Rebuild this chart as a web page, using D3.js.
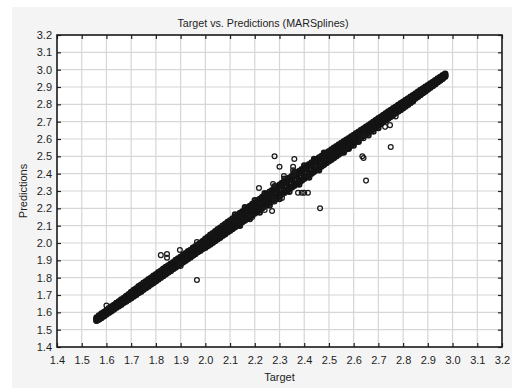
<!DOCTYPE html>
<html>
<head>
<meta charset="utf-8">
<script src="https://cdn.jsdelivr.net/npm/d3@7"></script>
<style>
  html, body { margin: 0; padding: 0; background: #ffffff; }
  svg { display: block; font-family: "Liberation Sans", Arial, sans-serif; }
</style>
</head>
<body>
<svg id="chart" width="512" height="388"></svg>
<script>
// Axis tick values (same range on both axes)
const tickValues = [1.4, 1.5, 1.6, 1.7, 1.8, 1.9, 2.0, 2.1, 2.2, 2.3, 2.4, 2.5, 2.6, 2.7, 2.8, 2.9, 3.0, 3.1, 3.2];

// Observed target values for the bulk of the cases
const target = [
  1.56, 1.57, 1.58, 1.59, 1.60, 1.61, 1.62, 1.63, 1.64, 1.65, 1.66, 1.67, 1.68, 1.69,
  1.70, 1.71, 1.72, 1.73, 1.74, 1.75, 1.76, 1.77, 1.78, 1.79, 1.80, 1.81, 1.82, 1.83,
  1.84, 1.85, 1.86, 1.87, 1.88, 1.89, 1.90, 1.91, 1.92, 1.93, 1.94, 1.95, 1.96, 1.97,
  1.98, 1.99, 2.00, 2.01, 2.02, 2.03, 2.04, 2.05, 2.06, 2.07, 2.08, 2.09, 2.10, 2.11,
  2.12, 2.13, 2.14, 2.15, 2.16, 2.17, 2.18, 2.19, 2.20, 2.21, 2.22, 2.23, 2.24, 2.25,
  2.26, 2.27, 2.28, 2.29, 2.30, 2.31, 2.32, 2.33, 2.34, 2.35, 2.36, 2.37, 2.38, 2.39,
  2.40, 2.41, 2.42, 2.43, 2.44, 2.45, 2.46, 2.47, 2.48, 2.49, 2.50, 2.51, 2.52, 2.53,
  2.54, 2.55, 2.56, 2.57, 2.58, 2.59, 2.60, 2.61, 2.62, 2.63, 2.64, 2.65, 2.66, 2.67,
  2.68, 2.69, 2.70, 2.71, 2.72, 2.73, 2.74, 2.75, 2.76, 2.77, 2.78, 2.79, 2.80, 2.81,
  2.82, 2.83, 2.84, 2.85, 2.86, 2.87, 2.88, 2.89, 2.90, 2.91, 2.92, 2.93, 2.94, 2.95,
  2.96, 2.97
];

// MARSplines predictions for those cases (five groups per target value)
const predTop = [
  1.570, 1.582, 1.593, 1.601, 1.613, 1.623, 1.634, 1.642, 1.654, 1.663, 1.674, 1.683, 1.694, 1.705,
  1.718, 1.729, 1.738, 1.751, 1.759, 1.771, 1.779, 1.791, 1.800, 1.811, 1.819, 1.831, 1.840, 1.851,
  1.861, 1.870, 1.881, 1.889, 1.902, 1.910, 1.921, 1.931, 1.941, 1.952, 1.960, 1.972, 1.981, 1.992,
  2.001, 2.012, 2.024, 2.035, 2.047, 2.056, 2.068, 2.079, 2.088, 2.100, 2.110, 2.121, 2.130, 2.141,
  2.152, 2.161, 2.173, 2.182, 2.193, 2.204, 2.213, 2.225, 2.234, 2.245, 2.254, 2.265, 2.276, 2.284,
  2.296, 2.305, 2.316, 2.325, 2.336, 2.346, 2.355, 2.367, 2.376, 2.386, 2.397, 2.405, 2.416, 2.425,
  2.436, 2.445, 2.455, 2.464, 2.474, 2.483, 2.493, 2.502, 2.512, 2.521, 2.530, 2.540, 2.549, 2.558,
  2.568, 2.577, 2.587, 2.596, 2.605, 2.615, 2.623, 2.633, 2.642, 2.652, 2.661, 2.671, 2.680, 2.690,
  2.700, 2.709, 2.719, 2.729, 2.738, 2.748, 2.758, 2.767, 2.777, 2.786, 2.796, 2.806, 2.815, 2.825,
  2.834, 2.844, 2.853, 2.863, 2.872, 2.882, 2.891, 2.901, 2.910, 2.920, 2.929, 2.939, 2.949, 2.958,
  2.968, 2.976
];
const predHigh = [
  1.565, 1.579, 1.588, 1.600, 1.608, 1.620, 1.629, 1.640, 1.649, 1.661, 1.668, 1.680, 1.690, 1.701,
  1.713, 1.722, 1.734, 1.741, 1.754, 1.762, 1.774, 1.783, 1.793, 1.803, 1.814, 1.824, 1.833, 1.845,
  1.853, 1.864, 1.874, 1.885, 1.894, 1.905, 1.917, 1.925, 1.937, 1.946, 1.957, 1.966, 1.977, 1.986,
  1.997, 2.006, 2.018, 2.026, 2.037, 2.047, 2.058, 2.067, 2.079, 2.088, 2.099, 2.108, 2.121, 2.131,
  2.142, 2.152, 2.163, 2.172, 2.184, 2.193, 2.203, 2.214, 2.225, 2.233, 2.245, 2.254, 2.264, 2.275,
  2.284, 2.296, 2.305, 2.316, 2.327, 2.335, 2.347, 2.356, 2.366, 2.377, 2.386, 2.396, 2.406, 2.416,
  2.425, 2.434, 2.445, 2.453, 2.464, 2.472, 2.482, 2.491, 2.501, 2.509, 2.519, 2.528, 2.538, 2.547,
  2.557, 2.566, 2.576, 2.585, 2.595, 2.604, 2.615, 2.623, 2.634, 2.642, 2.653, 2.662, 2.673, 2.681,
  2.692, 2.702, 2.713, 2.721, 2.732, 2.741, 2.752, 2.760, 2.771, 2.780, 2.790, 2.799, 2.810, 2.819,
  2.829, 2.838, 2.849, 2.857, 2.868, 2.877, 2.887, 2.896, 2.906, 2.916, 2.925, 2.935, 2.945, 2.955,
  2.964, 2.974
];
const predMid = [
  1.558, 1.573, 1.579, 1.594, 1.598, 1.612, 1.617, 1.633, 1.638, 1.654, 1.657, 1.673, 1.678, 1.692,
  1.703, 1.707, 1.724, 1.728, 1.743, 1.747, 1.764, 1.768, 1.783, 1.787, 1.804, 1.808, 1.823, 1.827,
  1.845, 1.848, 1.862, 1.867, 1.884, 1.887, 1.903, 1.906, 1.924, 1.927, 1.943, 1.946, 1.964, 1.967,
  1.984, 1.987, 2.004, 2.006, 2.024, 2.027, 2.044, 2.046, 2.065, 2.067, 2.084, 2.087, 2.105, 2.106,
  2.125, 2.127, 2.145, 2.147, 2.166, 2.168, 2.185, 2.187, 2.206, 2.208, 2.226, 2.227, 2.246, 2.248,
  2.265, 2.267, 2.286, 2.288, 2.305, 2.307, 2.324, 2.326, 2.344, 2.346, 2.363, 2.366, 2.383, 2.386,
  2.403, 2.405, 2.423, 2.425, 2.443, 2.445, 2.462, 2.465, 2.482, 2.484, 2.502, 2.504, 2.521, 2.524,
  2.541, 2.543, 2.561, 2.563, 2.580, 2.583, 2.600, 2.602, 2.619, 2.622, 2.639, 2.641, 2.659, 2.661,
  2.678, 2.681, 2.698, 2.700, 2.718, 2.720, 2.737, 2.740, 2.757, 2.759, 2.777, 2.779, 2.797, 2.798,
  2.816, 2.818, 2.836, 2.838, 2.856, 2.857, 2.876, 2.877, 2.896, 2.907, 2.916, 2.927, 2.937, 2.947,
  2.957, 2.968
];
const predLow = [
  1.553, 1.562, 1.573, 1.581, 1.592, 1.601, 1.611, 1.620, 1.631, 1.639, 1.650, 1.659, 1.669, 1.678,
  1.688, 1.697, 1.707, 1.716, 1.727, 1.735, 1.746, 1.755, 1.765, 1.775, 1.784, 1.794, 1.805, 1.813,
  1.824, 1.833, 1.843, 1.853, 1.863, 1.872, 1.884, 1.892, 1.902, 1.912, 1.922, 1.931, 1.942, 1.951,
  1.961, 1.970, 1.981, 1.990, 2.000, 2.009, 2.020, 2.029, 2.039, 2.048, 2.059, 2.067, 2.078, 2.087,
  2.097, 2.106, 2.117, 2.126, 2.136, 2.145, 2.155, 2.165, 2.176, 2.184, 2.195, 2.204, 2.214, 2.224,
  2.234, 2.243, 2.254, 2.263, 2.274, 2.283, 2.293, 2.303, 2.313, 2.322, 2.333, 2.342, 2.352, 2.362,
  2.373, 2.383, 2.393, 2.403, 2.414, 2.423, 2.434, 2.444, 2.455, 2.464, 2.475, 2.485, 2.495, 2.505,
  2.516, 2.525, 2.536, 2.546, 2.556, 2.566, 2.577, 2.587, 2.597, 2.607, 2.618, 2.628, 2.638, 2.648,
  2.659, 2.669, 2.679, 2.690, 2.700, 2.710, 2.720, 2.731, 2.741, 2.751, 2.761, 2.772, 2.782, 2.792,
  2.803, 2.813, 2.823, 2.833, 2.844, 2.854, 2.865, 2.874, 2.885, 2.895, 2.906, 2.916, 2.927, 2.937,
  2.948, 2.960
];
const predBottom = [
  1.551, 1.559, 1.568, 1.577, 1.587, 1.597, 1.606, 1.616, 1.626, 1.635, 1.644, 1.655, 1.663, 1.673,
  1.681, 1.691, 1.700, 1.711, 1.719, 1.730, 1.740, 1.749, 1.760, 1.769, 1.780, 1.789, 1.800, 1.809,
  1.819, 1.830, 1.839, 1.850, 1.859, 1.869, 1.878, 1.889, 1.898, 1.908, 1.917, 1.928, 1.937, 1.948,
  1.956, 1.967, 1.973, 1.983, 1.991, 2.002, 2.011, 2.022, 2.031, 2.042, 2.051, 2.062, 2.070, 2.081,
  2.091, 2.101, 2.110, 2.121, 2.130, 2.141, 2.150, 2.161, 2.170, 2.181, 2.190, 2.201, 2.210, 2.221,
  2.230, 2.241, 2.250, 2.261, 2.270, 2.281, 2.290, 2.302, 2.310, 2.321, 2.330, 2.341, 2.350, 2.361,
  2.370, 2.381, 2.390, 2.401, 2.411, 2.421, 2.431, 2.441, 2.451, 2.461, 2.471, 2.481, 2.491, 2.501,
  2.511, 2.521, 2.531, 2.541, 2.551, 2.562, 2.576, 2.586, 2.597, 2.607, 2.617, 2.627, 2.638, 2.647,
  2.658, 2.668, 2.678, 2.688, 2.698, 2.708, 2.718, 2.728, 2.738, 2.748, 2.758, 2.768, 2.778, 2.788,
  2.798, 2.808, 2.818, 2.836, 2.847, 2.857, 2.867, 2.877, 2.888, 2.898, 2.908, 2.918, 2.929, 2.939,
  2.950, 2.961
];

// Cases along the edges of the band, where the spread is widest
const edgeTarget = [
  2.12, 2.16, 2.20, 2.24, 2.28, 2.32, 2.36, 2.40, 2.44, 2.48,
  2.14, 2.18, 2.22, 2.26, 2.30, 2.34, 2.38, 2.42, 2.46,
  2.56, 2.58, 2.60, 2.62, 2.66, 2.68, 2.70
];
const edgePred = [
  2.165, 2.206, 2.247, 2.287, 2.328, 2.371, 2.409, 2.447, 2.484, 2.520,
  2.100, 2.138, 2.176, 2.216, 2.254, 2.296, 2.337, 2.378, 2.420,
  2.522, 2.544, 2.563, 2.584, 2.622, 2.643, 2.664
];

// Cases the model fits less well
const outlierTarget = [
  1.600, 1.820, 1.845, 1.845, 1.897, 1.900, 1.966, 1.966,
  2.190, 2.217, 2.240, 2.270, 2.274, 2.280, 2.280, 2.300, 2.310, 2.318,
  2.355, 2.355, 2.355, 2.360, 2.375, 2.390, 2.400, 2.415, 2.464,
  2.635, 2.640, 2.640, 2.650, 2.727, 2.747, 2.750, 2.770
];
const outlierPred = [
  1.640, 1.930, 1.937, 1.915, 1.960, 1.867, 1.787, 2.006,
  2.150, 2.317, 2.190, 2.185, 2.340, 2.500, 2.240, 2.440, 2.260, 2.387,
  2.440, 2.420, 2.400, 2.485, 2.290, 2.290, 2.290, 2.290, 2.200,
  2.500, 2.490, 2.605, 2.360, 2.670, 2.680, 2.554, 2.730
];

const svg = d3.select("#chart");
const W = 512, H = 388;
const plot = { left: 57, right: 502, top: 35, bottom: 347 };

// Outer panel
svg.append("rect")
  .attr("x", 12).attr("y", 7)
  .attr("width", W - 12).attr("height", H - 7)
  .attr("fill", "#f4f4f4");

// Plot area
svg.append("rect")
  .attr("x", plot.left).attr("y", plot.top)
  .attr("width", plot.right - plot.left).attr("height", plot.bottom - plot.top)
  .attr("fill", "#ffffff");

const x = d3.scaleLinear().domain([1.4, 3.2]).range([plot.left, plot.right]);
const y = d3.scaleLinear().domain([1.4, 3.2]).range([plot.bottom, plot.top]);

// Gridlines
const grid = svg.append("g").attr("stroke", "#d6d6d6").attr("stroke-width", 1.2);
grid.selectAll("line.vx").data(tickValues.slice(1, -1)).join("line")
  .attr("x1", d => x(d)).attr("x2", d => x(d))
  .attr("y1", plot.top).attr("y2", plot.bottom);
grid.selectAll("line.hy").data(tickValues.slice(1, -1)).join("line")
  .attr("y1", d => y(d)).attr("y2", d => y(d))
  .attr("x1", plot.left).attr("x2", plot.right);

// Points: dense band first, then the scattered cases
const band = [];
target.forEach((t, i) => {
  band.push([t, predTop[i]]);
  band.push([t, predHigh[i]]);
  band.push([t, predMid[i]]);
  band.push([t, predLow[i]]);
  band.push([t, predBottom[i]]);
});
edgeTarget.forEach((t, i) => band.push([t, edgePred[i]]));
const scattered = outlierTarget.map((t, i) => [t, outlierPred[i]]);

svg.append("g")
  .selectAll("circle").data(band).join("circle")
  .attr("cx", d => x(d[0]))
  .attr("cy", d => y(d[1]))
  .attr("r", 2.3)
  .attr("fill", "none")
  .attr("stroke", "#141414")
  .attr("stroke-width", 1.9);

svg.append("g")
  .selectAll("circle").data(scattered).join("circle")
  .attr("cx", d => x(d[0]))
  .attr("cy", d => y(d[1]))
  .attr("r", 2.4)
  .attr("fill", "none")
  .attr("stroke", "#1a1a1a")
  .attr("stroke-width", 1.25);

// Axes with inward ticks
const fmt = d3.format(".1f");
function styleAxis(g) {
  g.select(".domain").remove();
  g.selectAll(".tick line").attr("stroke", "#222").attr("stroke-width", 1.2);
  g.selectAll(".tick text").attr("fill", "#1e1e1e").style("font-size", "11px")
    .style("font-family", "'Liberation Sans', Arial, sans-serif");
}

svg.append("g")
  .attr("transform", `translate(0,${plot.bottom})`)
  .call(d3.axisBottom(x).tickValues(tickValues).tickFormat(fmt).tickSizeInner(-4).tickSizeOuter(0).tickPadding(9))
  .call(styleAxis);
svg.append("g")
  .attr("transform", `translate(${plot.left},0)`)
  .call(d3.axisLeft(y).tickValues(tickValues).tickFormat(fmt).tickSizeInner(-4).tickSizeOuter(0).tickPadding(5))
  .call(styleAxis);
svg.append("g")
  .attr("transform", `translate(0,${plot.top})`)
  .call(d3.axisTop(x).tickValues(tickValues).tickFormat("").tickSizeInner(-4).tickSizeOuter(0))
  .call(styleAxis);
svg.append("g")
  .attr("transform", `translate(${plot.right},0)`)
  .call(d3.axisRight(y).tickValues(tickValues).tickFormat("").tickSizeInner(-4).tickSizeOuter(0))
  .call(styleAxis);

// Frame
svg.append("rect")
  .attr("x", plot.left).attr("y", plot.top)
  .attr("width", plot.right - plot.left).attr("height", plot.bottom - plot.top)
  .attr("fill", "none").attr("stroke", "#1a1a1a").attr("stroke-width", 1.6);

// Title and axis titles
svg.append("text")
  .attr("x", 263).attr("y", 27)
  .attr("text-anchor", "middle")
  .attr("fill", "#1e1e1e")
  .style("font-size", "10.7px")
  .text("Target vs. Predictions (MARSplines)");

svg.append("text")
  .attr("x", (plot.left + plot.right) / 2).attr("y", 381)
  .attr("text-anchor", "middle")
  .attr("fill", "#1e1e1e")
  .style("font-size", "11px")
  .text("Target");

svg.append("text")
  .attr("transform", `translate(27,${(plot.top + plot.bottom) / 2}) rotate(-90)`)
  .attr("text-anchor", "middle")
  .attr("fill", "#1e1e1e")
  .style("font-size", "11px")
  .text("Predictions");
</script>
</body>
</html>
